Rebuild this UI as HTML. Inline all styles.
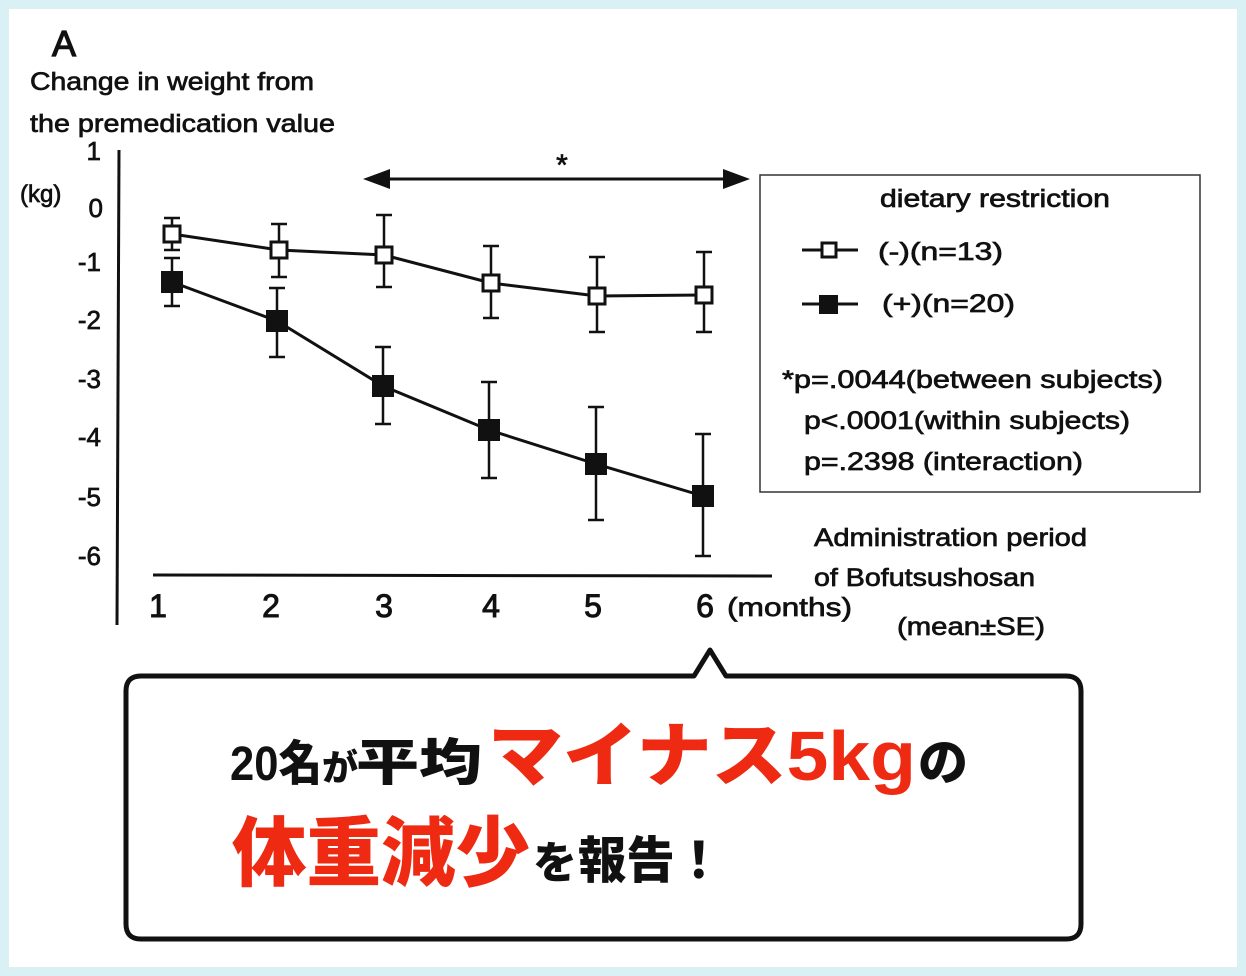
<!DOCTYPE html>
<html><head><meta charset="utf-8"><style>
body{margin:0;background:#fff}
.wrap{position:absolute;left:0;top:0;width:1246px;height:976px;background:#d9f0f5}
.inner{position:absolute;left:9px;top:9px;width:1228px;height:958px;background:#fff}
svg{position:absolute;left:0;top:0}
.t{font-family:"Liberation Sans","DejaVu Sans",sans-serif;fill:#111;stroke:#111;stroke-width:0.7}
.jp{font-family:"Liberation Sans","Noto Sans CJK JP",sans-serif;font-weight:900}
</style></head><body>
<div class="wrap"><div class="inner"></div></div>
<svg width="1246" height="976" viewBox="0 0 1246 976">
<g class="t">
<text x="52" y="56" font-size="36" stroke-width="1.2">A</text>
<text x="30" y="90" font-size="25" textLength="284" lengthAdjust="spacingAndGlyphs">Change in weight from</text>
<text x="30" y="132" font-size="25" textLength="305" lengthAdjust="spacingAndGlyphs">the premedication value</text>
<text x="20" y="202" font-size="24">(kg)</text>
<g font-size="26" text-anchor="end">
<text x="101" y="160">1</text><text x="103" y="217">0</text><text x="101" y="271">-1</text>
<text x="101" y="329">-2</text><text x="101" y="388">-3</text><text x="101" y="446">-4</text>
<text x="101" y="506">-5</text><text x="101" y="565">-6</text></g>
<g font-size="32" text-anchor="middle" stroke-width="1">
<text x="158" y="617">1</text><text x="271" y="617">2</text><text x="384" y="617">3</text>
<text x="491" y="617">4</text><text x="593" y="617">5</text><text x="705" y="617">6</text></g>
<text x="727" y="616" font-size="26" textLength="125" lengthAdjust="spacingAndGlyphs">(months)</text>
<text x="814" y="546" font-size="25" textLength="273" lengthAdjust="spacingAndGlyphs">Administration period</text>
<text x="814" y="586" font-size="25" textLength="221" lengthAdjust="spacingAndGlyphs">of Bofutsushosan</text>
<text x="897" y="635" font-size="25" textLength="148" lengthAdjust="spacingAndGlyphs">(mean±SE)</text>
<text x="562" y="175" font-size="30" text-anchor="middle">*</text>
</g>
<g stroke="#111" fill="none">
<line x1="119" y1="150" x2="117" y2="625" stroke-width="3"/>
<line x1="153" y1="575" x2="772" y2="576" stroke-width="3"/>
<line x1="385" y1="179" x2="730" y2="179" stroke-width="3"/>
</g>
<polygon points="363,179 390,169 390,189" fill="#111"/>
<polygon points="750,179 723,169 723,189" fill="#111"/>
<g stroke="#111" stroke-width="2.5">
<path d="M172 218V250M164 218H180M164 250H180"/>
<path d="M279 224V277M271 224H287M271 277H287"/>
<path d="M384 215V287M376 215H392M376 287H392"/>
<path d="M491 246V318M483 246H499M483 318H499"/>
<path d="M597 257V332M589 257H605M589 332H605"/>
<path d="M704 252V332M696 252H712M696 332H712"/>
<path d="M172 258V306M164 258H180M164 306H180"/>
<path d="M277 288V357M269 288H285M269 357H285"/>
<path d="M383 347V424M375 347H391M375 424H391"/>
<path d="M489 382V478M481 382H497M481 478H497"/>
<path d="M596 407V520M588 407H604M588 520H604"/>
<path d="M703 434V556M695 434H711M695 556H711"/>
</g>
<polyline points="172,234 279,250 384,255 491,283 597,296 704,295" fill="none" stroke="#111" stroke-width="3"/>
<polyline points="172,282 277,321 383,386 489,430 596,464 703,496" fill="none" stroke="#111" stroke-width="3"/>
<g fill="#fff" stroke="#111" stroke-width="3">
<rect x="164" y="226" width="16" height="16"/><rect x="271" y="242" width="16" height="16"/>
<rect x="376" y="247" width="16" height="16"/><rect x="483" y="275" width="16" height="16"/>
<rect x="589" y="288" width="16" height="16"/><rect x="696" y="287" width="16" height="16"/>
</g>
<g fill="#111">
<rect x="161" y="271" width="22" height="22"/><rect x="266" y="310" width="22" height="22"/>
<rect x="372" y="375" width="22" height="22"/><rect x="478" y="419" width="22" height="22"/>
<rect x="585" y="453" width="22" height="22"/><rect x="692" y="485" width="22" height="22"/>
</g>
<rect x="760" y="175" width="440" height="317" fill="none" stroke="#333" stroke-width="1.5"/>
<g class="t" font-size="25">
<text x="880" y="207" textLength="230" lengthAdjust="spacingAndGlyphs">dietary restriction</text>
<text x="878" y="260" textLength="125" lengthAdjust="spacingAndGlyphs">(-)(n=13)</text>
<text x="882" y="312" textLength="133" lengthAdjust="spacingAndGlyphs">(+)(n=20)</text>
<text x="782" y="388" textLength="381" lengthAdjust="spacingAndGlyphs">*p=.0044(between subjects)</text>
<text x="804" y="429" textLength="326" lengthAdjust="spacingAndGlyphs">p&lt;.0001(within subjects)</text>
<text x="804" y="470" textLength="279" lengthAdjust="spacingAndGlyphs">p=.2398 (interaction)</text>
</g>
<line x1="802" y1="250" x2="858" y2="250" stroke="#111" stroke-width="3"/>
<rect x="822" y="243" width="14" height="14" fill="#fff" stroke="#111" stroke-width="3"/>
<line x1="802" y1="304" x2="858" y2="304" stroke="#111" stroke-width="3"/>
<rect x="819" y="295" width="19" height="19" fill="#111"/>
<path d="M141 676 H694 L710 650 L726 676 H1066 Q1081 676 1081 691 V924 Q1081 939 1066 939 H141 Q126 939 126 924 V691 Q126 676 141 676 Z" fill="#fff" stroke="#111" stroke-width="5" stroke-linejoin="round"/>
<g class="jp">
<text x="230" y="780" font-size="48" fill="#111" textLength="92" lengthAdjust="spacingAndGlyphs">20名</text>
<text x="322" y="780" font-size="36" fill="#111">が</text>
<text x="356" y="780" font-size="50" fill="#111" textLength="126" lengthAdjust="spacingAndGlyphs">平均</text>
<text x="488" y="780" font-size="70" fill="#ee2a12" textLength="428" lengthAdjust="spacingAndGlyphs">マイナス5kg</text>
<text x="918" y="780" font-size="50" fill="#111">の</text>
<text x="232" y="880" font-size="76" fill="#ee2a12" textLength="298" lengthAdjust="spacingAndGlyphs">体重減少</text>
<text x="533" y="878" font-size="44" fill="#111">を</text>
<text x="578" y="878" font-size="50" fill="#111" textLength="145" lengthAdjust="spacingAndGlyphs">報告！</text>
</g>
</svg>
</body></html>
